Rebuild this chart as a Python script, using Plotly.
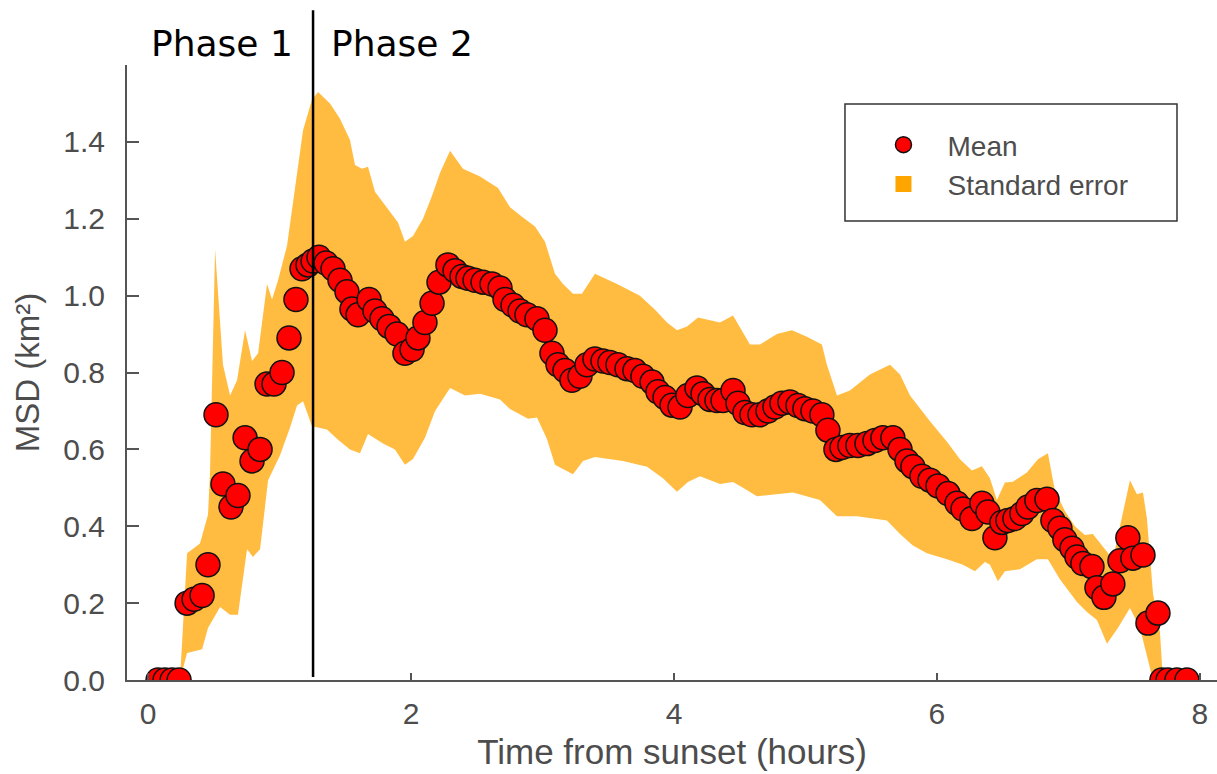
import plotly.graph_objects as go

# Mean MSD (km^2) vs time from sunset (hours)
mean_t = [0.076, 0.129, 0.183, 0.236, 0.297, 0.350, 0.411, 0.456, 0.517, 0.570,
          0.631, 0.684, 0.738, 0.791, 0.852, 0.905, 0.958, 1.019, 1.072, 1.125,
          1.171, 1.217, 1.255, 1.300, 1.354, 1.407, 1.460, 1.513, 1.551, 1.597,
          1.681, 1.726, 1.779, 1.833, 1.894, 1.954, 2.008, 2.053, 2.106, 2.160,
          2.213, 2.281, 2.335, 2.388, 2.433, 2.487, 2.548, 2.616, 2.677, 2.715,
          2.776, 2.829, 2.882, 2.958, 3.019, 3.072, 3.118, 3.171, 3.224, 3.285,
          3.338, 3.399, 3.460, 3.513, 3.574, 3.643, 3.703, 3.764, 3.833, 3.878,
          3.932, 3.985, 4.046, 4.106, 4.175, 4.221, 4.274, 4.327, 4.373, 4.449,
          4.487, 4.540, 4.593, 4.654, 4.715, 4.768, 4.821, 4.882, 4.943, 4.996,
          5.057, 5.125, 5.171, 5.232, 5.278, 5.338, 5.399, 5.468, 5.529, 5.589,
          5.665, 5.719, 5.772, 5.817, 5.886, 5.947, 6.008, 6.084, 6.152, 6.198,
          6.266, 6.342, 6.388, 6.441, 6.494, 6.540, 6.593, 6.646, 6.692, 6.760,
          6.837, 6.882, 6.935, 6.973, 7.027, 7.065, 7.110, 7.179, 7.217, 7.270,
          7.338, 7.392, 7.452, 7.490, 7.567, 7.605, 7.681, 7.711, 7.757, 7.825,
          7.901]
mean_msd = [0.0, 0.0, 0.0, 0.0, 0.20, 0.21, 0.22, 0.30, 0.69, 0.51,
            0.45, 0.48, 0.63, 0.57, 0.60, 0.77, 0.77, 0.80, 0.89, 0.99,
            1.07, 1.08, 1.09, 1.10, 1.085, 1.07, 1.04, 1.01, 0.965, 0.95,
            0.99, 0.96, 0.94, 0.92, 0.90, 0.85, 0.86, 0.89, 0.93, 0.98,
            1.035, 1.08, 1.065, 1.05, 1.045, 1.04, 1.035, 1.03, 1.02, 0.99,
            0.975, 0.96, 0.95, 0.94, 0.91, 0.85, 0.82, 0.805, 0.78, 0.79,
            0.82, 0.835, 0.83, 0.826, 0.82, 0.81, 0.805, 0.79, 0.775, 0.75,
            0.735, 0.715, 0.71, 0.74, 0.76, 0.745, 0.73, 0.727, 0.727, 0.753,
            0.72, 0.696, 0.69, 0.69, 0.70, 0.71, 0.72, 0.723, 0.714, 0.706,
            0.70, 0.69, 0.65, 0.60, 0.605, 0.61, 0.61, 0.615, 0.623, 0.63,
            0.63, 0.60, 0.57, 0.555, 0.53, 0.52, 0.505, 0.485, 0.46, 0.445,
            0.42, 0.46, 0.437, 0.37, 0.41, 0.415, 0.42, 0.433, 0.45, 0.467,
            0.47, 0.415, 0.395, 0.365, 0.343, 0.32, 0.303, 0.295, 0.24, 0.215,
            0.25, 0.31, 0.37, 0.317, 0.325, 0.148, 0.174, 0.0, 0.0, 0.0,
            0.0]

# Standard error band: upper edge and lower edge
upper_t = [0.243, 0.297, 0.395, 0.456, 0.471, 0.510, 0.570, 0.624, 0.677, 0.738,
           0.791, 0.837, 0.905, 0.943, 0.989, 1.057, 1.118, 1.179, 1.247, 1.293,
           1.384, 1.460, 1.536, 1.574, 1.627, 1.673, 1.726, 1.817, 1.901, 1.954,
           2.015, 2.091, 2.160, 2.221, 2.297, 2.395, 2.525, 2.662, 2.753, 2.844,
           2.943, 3.019, 3.095, 3.156, 3.232, 3.300, 3.399, 3.567, 3.741, 3.856,
           3.947, 4.023, 4.099, 4.183, 4.274, 4.350, 4.449, 4.578, 4.654, 4.783,
           4.897, 5.011, 5.125, 5.163, 5.240, 5.338, 5.490, 5.643, 5.719, 5.795,
           5.947, 6.076, 6.175, 6.266, 6.342, 6.403, 6.456, 6.517, 6.578, 6.684,
           6.768, 6.844, 6.897, 6.973, 7.049, 7.125, 7.186, 7.278, 7.338, 7.468,
           7.521, 7.567, 7.597, 7.643, 7.696, 7.719]
upper_msd = [0.0, 0.33, 0.355, 0.43, 0.535, 1.12, 0.82, 0.74, 0.78, 0.91,
             0.83, 0.85, 1.03, 0.99, 1.04, 1.13, 1.28, 1.43, 1.51, 1.53,
             1.50, 1.46, 1.405, 1.34, 1.33, 1.335, 1.27, 1.23, 1.19, 1.14,
             1.155, 1.20, 1.26, 1.32, 1.377, 1.33, 1.31, 1.28, 1.23, 1.205,
             1.18, 1.14, 1.057, 1.03, 1.005, 1.005, 1.057, 1.03, 1.00, 0.963,
             0.93, 0.91, 0.92, 0.943, 0.935, 0.93, 0.948, 0.873, 0.873, 0.90,
             0.91, 0.893, 0.873, 0.82, 0.74, 0.753, 0.795, 0.82, 0.795, 0.74,
             0.673, 0.62, 0.574, 0.545, 0.556, 0.525, 0.468, 0.514, 0.516, 0.54,
             0.574, 0.59, 0.493, 0.44, 0.40, 0.377, 0.38, 0.34, 0.314, 0.52,
             0.483, 0.488, 0.42, 0.226, 0.125, 0.0]
lower_t = [0.243, 0.297, 0.411, 0.456, 0.548, 0.624, 0.684, 0.753, 0.798, 0.852,
           0.913, 1.004, 1.080, 1.133, 1.179, 1.247, 1.285, 1.361, 1.445, 1.536,
           1.612, 1.673, 1.787, 1.878, 1.954, 2.015, 2.106, 2.183, 2.297, 2.411,
           2.525, 2.677, 2.753, 2.890, 2.958, 3.034, 3.095, 3.148, 3.232, 3.308,
           3.399, 3.612, 3.795, 3.916, 4.023, 4.106, 4.198, 4.350, 4.449, 4.525,
           4.631, 4.905, 5.110, 5.240, 5.392, 5.620, 5.719, 5.817, 5.924, 6.076,
           6.198, 6.289, 6.365, 6.403, 6.464, 6.517, 6.631, 6.760, 6.844, 6.935,
           7.065, 7.141, 7.217, 7.293, 7.376, 7.468, 7.544, 7.605, 7.643]
lower_msd = [0.0, 0.07, 0.08, 0.135, 0.19, 0.17, 0.17, 0.34, 0.32, 0.34,
             0.52, 0.585, 0.657, 0.714, 0.725, 0.66, 0.657, 0.652, 0.625, 0.60,
             0.59, 0.64, 0.615, 0.60, 0.56, 0.575, 0.63, 0.70, 0.76, 0.74,
             0.745, 0.73, 0.705, 0.68, 0.683, 0.627, 0.56, 0.55, 0.535, 0.57,
             0.58, 0.57, 0.555, 0.525, 0.49, 0.515, 0.53, 0.51, 0.515, 0.50,
             0.478, 0.488, 0.468, 0.426, 0.426, 0.415, 0.38, 0.35, 0.33, 0.314,
             0.30, 0.283, 0.307, 0.30, 0.257, 0.283, 0.288, 0.314, 0.314, 0.262,
             0.203, 0.177, 0.156, 0.094, 0.135, 0.187, 0.135, 0.052, 0.0]

phase_boundary = 1.255
x_ticks = [0, 2, 4, 6, 8]
y_ticks = [0.0, 0.2, 0.4, 0.6, 0.8, 1.0, 1.2, 1.4]

GRAY = "#4d4d4d"
AXIS = "#555555"
FONT = "Liberation Sans, Arial, Helvetica, sans-serif"

fig = go.Figure()

fig.add_trace(go.Scatter(
    x=upper_t + lower_t[::-1], y=upper_msd + lower_msd[::-1],
    mode="lines", fill="toself", fillcolor="rgba(255,165,0,0.75)",
    line=dict(width=0), hoverinfo="skip", showlegend=False))

fig.add_trace(go.Scatter(
    x=mean_t, y=mean_msd, mode="markers",
    marker=dict(size=24, color="#ff0000", line=dict(color="#111111", width=1.5)),
    showlegend=False))

# legend entries
fig.add_trace(go.Scatter(
    x=[None], y=[None], mode="markers", name="Mean",
    marker=dict(size=20, color="#ff0000", line=dict(color="#111111", width=1.5))))
fig.add_trace(go.Scatter(
    x=[None], y=[None], mode="markers", name="Standard error",
    marker=dict(size=18, symbol="square", color="#ffa500", line=dict(width=0))))

# legend frame
fig.add_shape(type="rect", xref="paper", yref="paper",
              x0=0.6587, x1=0.9633, y0=0.7463, y1=0.9366,
              line=dict(color="#333333", width=1.5), fillcolor="rgba(0,0,0,0)", layer="above")

fig.add_shape(type="line", xref="x", yref="paper",
              x0=phase_boundary, x1=phase_boundary, y0=0.005, y1=1.089,
              line=dict(color="black", width=2.5))

fig.add_annotation(text="Phase 1", xref="x", yref="paper", x=phase_boundary, y=1.0345,
                   xanchor="right", yanchor="middle", xshift=-18, showarrow=False,
                   font=dict(family="DejaVu Sans, Verdana", size=36, color="black"))
fig.add_annotation(text="Phase 2", xref="x", yref="paper", x=phase_boundary, y=1.0345,
                   xanchor="left", yanchor="middle", xshift=16, showarrow=False,
                   font=dict(family="DejaVu Sans, Verdana", size=36, color="black"))

fig.update_layout(
    width=1217, height=774,
    margin=dict(l=127, r=0, t=65, b=94, pad=0),
    paper_bgcolor="white", plot_bgcolor="white",
    font=dict(family=FONT, color=GRAY),
    legend=dict(x=0.672, y=0.9106, xanchor="left", yanchor="top",
                borderwidth=0, bgcolor="rgba(0,0,0,0)", itemwidth=78,
                font=dict(family=FONT, size=28, color=GRAY)),
    xaxis=dict(range=[-0.16, 8.13], tickvals=x_ticks, ticktext=[str(v) for v in x_ticks],
               ticks="inside", ticklen=7, tickwidth=2, tickcolor=AXIS,
               showline=True, linecolor=AXIS, linewidth=2, showgrid=False, zeroline=False,
               tickfont=dict(size=30, color=GRAY), ticklabelstandoff=6,
               title=dict(text="Time from sunset (hours)", font=dict(size=35, color=GRAY), standoff=10)),
    yaxis=dict(range=[0, 1.6], tickvals=y_ticks, ticktext=[f"{v:.1f}" for v in y_ticks],
               ticks="inside", ticklen=12, tickwidth=2, tickcolor=AXIS,
               showline=True, linecolor=AXIS, linewidth=2, showgrid=False, zeroline=False,
               tickfont=dict(size=30, color=GRAY), ticklabelstandoff=14,
               title=dict(text="MSD (km²)", font=dict(size=33, color=GRAY), standoff=14)),
)

fig.write_html("out.html")
